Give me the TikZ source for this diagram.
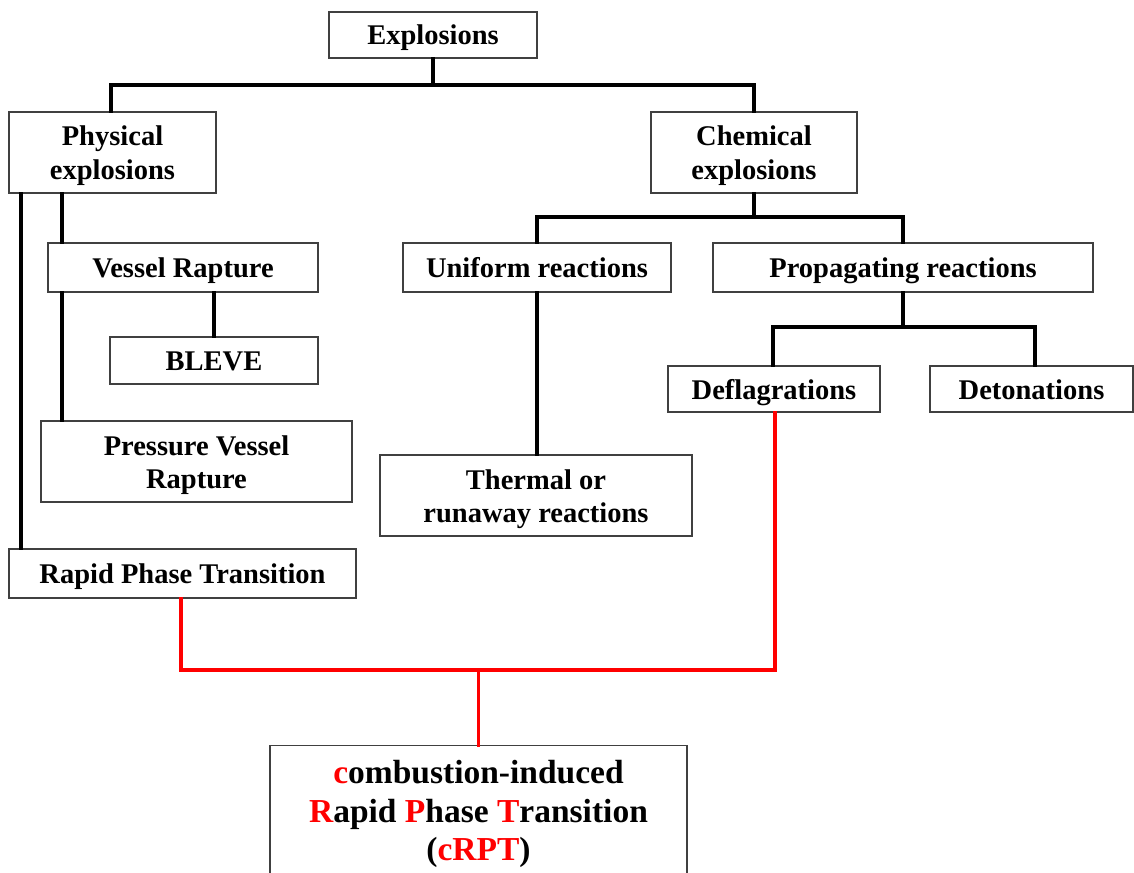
\documentclass[tikz,border=0pt]{standalone}
\usepackage{fontspec}
\setmainfont{Liberation Serif}
\newcommand\stacklines[1]{\vtop{\halign{\hfil##\hfil\cr #1\crcr}}}
\begin{document}
\begin{tikzpicture}[x=1pt,y=-1pt,
  box/.style={draw=black!75, line width=1.1pt, fill=white, inner sep=0pt,
    text height=20pt, text depth=0pt,
    font=\fontsize{28.5}{33}\selectfont\bfseries},
  twobox/.style={box, text height=20pt, text depth=33pt},
  conn/.style={line width=4pt, black, line cap=rect},
  rconn/.style={line width=3.5pt, red, line cap=rect}]
\useasboundingbox (0,0) rectangle (1134,872);
% boxes
\node[box, minimum width=208pt, minimum height=46pt] (expl) at (433,35) {Explosions};
\node[twobox, minimum width=207pt, minimum height=81pt] (phys) at (112.5,152.5) {\stacklines{Physical\cr explosions}};
\node[twobox, minimum width=206pt, minimum height=81pt] (chem) at (754,152.5) {\stacklines{Chemical\cr explosions}};
\node[box, minimum width=270pt, minimum height=49pt] (vessel) at (183,267.5) {Vessel Rapture};
\node[box, minimum width=208pt, minimum height=47pt] (bleve) at (214,360.5) {BLEVE};
\node[twobox, minimum width=311pt, minimum height=81pt] (pvr) at (196.5,461.5) {\stacklines{Pressure Vessel\cr Rapture}};
\node[box, minimum width=347pt, minimum height=49pt] (rpt) at (182.5,573.5) {Rapid Phase Transition};
\node[box, minimum width=268pt, minimum height=49pt] (unif) at (537,267.5) {Uniform reactions};
\node[box, minimum width=380pt, minimum height=49pt] (prop) at (903,267.5) {Propagating reactions};
\node[twobox, minimum width=312pt, minimum height=81pt] (therm) at (536,495.5) {\stacklines{Thermal or\cr runaway reactions}};
\node[box, minimum width=212pt, minimum height=46pt] (defl) at (774,389) {Deflagrations};
\node[box, minimum width=203pt, minimum height=46pt] (deto) at (1031.5,389) {Detonations};
\node[box, minimum width=417pt, anchor=north, text height=38pt, text depth=132pt,
  font=\fontsize{33.5}{38.5}\selectfont\bfseries] (crpt) at (478.5,745)
  {\stacklines{\textcolor{red}{c}ombustion-induced\cr
   \textcolor{red}{R}apid \textcolor{red}{P}hase \textcolor{red}{T}ransition\cr
   (\textcolor{red}{cRPT})}};
% helper coordinates
\coordinate (y1) at (0,85);
\coordinate (y2) at (0,217);
\coordinate (y3) at (0,327);
\coordinate (y4) at (0,670);
\coordinate (xa) at (21,0);
\coordinate (xb) at (62,0);
\coordinate (xc) at (214,0);
\coordinate (xd) at (181,0);
\coordinate (xe) at (775,0);
\coordinate (xf) at (773,0);
\coordinate (xg) at (1035,0);
\coordinate (xh) at (111,0);
% black connectors
\draw[conn] (expl.south) -- (expl.south |- y1);
\draw[conn] (xh |- phys.north) |- (expl.south |- y1) -| (chem.north);
\draw[conn] (chem.south) -- (chem.south |- y2);
\draw[conn] (unif.north) |- (chem.south |- y2) -| (prop.north);
\draw[conn] (xa |- phys.south) -- (xa |- rpt.north);
\draw[conn] (xb |- phys.south) -- (xb |- vessel.north);
\draw[conn] (xb |- vessel.south) -- (xb |- pvr.north);
\draw[conn] (xc |- vessel.south) -- (xc |- bleve.north);
\draw[conn] (unif.south) -- (unif.south |- therm.north);
\draw[conn] (prop.south) -- (prop.south |- y3);
\draw[conn] (xf |- defl.north) |- (prop.south |- y3) -| (xg |- deto.north);
% red connectors
\draw[rconn] (xd |- rpt.south) |- (crpt.north |- y4) -| (xe |- defl.south);
\draw[rconn] (crpt.north) -- (crpt.north |- y4);
\end{tikzpicture}
\end{document}
